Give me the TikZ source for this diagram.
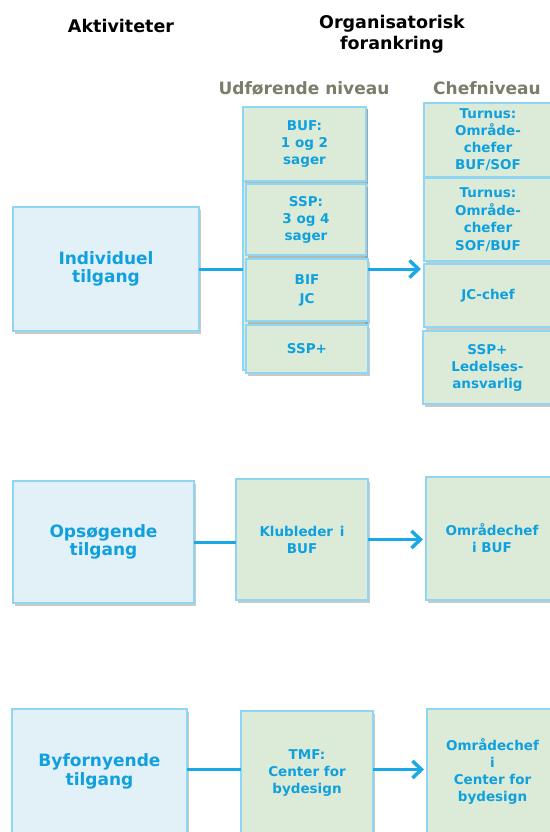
\documentclass[tikz,border=0pt]{standalone}
\usepackage{fontspec}
\setmainfont{DejaVu Sans}
\usetikzlibrary{arrows.meta,shadows}
\definecolor{txtblue}{RGB}{16,160,222}
\definecolor{bordblue}{RGB}{143,214,245}
\definecolor{fillblue}{RGB}{226,240,247}
\definecolor{fillgreen}{RGB}{220,235,216}
\definecolor{headgray}{RGB}{124,124,106}
\definecolor{linkblue}{RGB}{26,168,230}
\begin{document}
\begin{tikzpicture}[x=1pt,y=-1pt,
 box/.style={draw=bordblue, line width=1.2pt, inner sep=0pt, outer sep=0pt, align=center, text=txtblue,
   font=\bfseries\fontsize{13.5}{17}\selectfont,
   drop shadow={shadow xshift=2pt,shadow yshift=-2.5pt,opacity=0.3,fill=black!70}},
 actbox/.style={box, fill=fillblue, font=\bfseries\fontsize{17}{18.5}\selectfont},
 orgbox/.style={box, fill=fillgreen},
 title/.style={font=\bfseries\fontsize{17.5}{21}\selectfont, align=center, inner sep=0pt},
 level/.style={font=\bfseries\fontsize{17}{20}\selectfont, text=headgray, inner sep=0pt},
 link/.style={draw=linkblue, line width=3pt},
 flow/.style={link, -{Straight Barb[length=9pt,width=17pt,line width=3.5pt]}}]
\useasboundingbox (0,0) rectangle (549,832);
% headings
\node[title] (akt) at (121,26) {Aktiviteter};
\node[title] (org) at (392,34) {Organisatorisk\\forankring};
\node[level] (udf) at (304,88) {Udførende niveau};
\node[level] (chef) at (487,88) {Chefniveau};
% activities
\node[actbox, minimum width=186pt, minimum height=124pt] (ind) at (106,269) {Individuel\\tilgang};
\node[actbox, minimum width=181pt, minimum height=122pt] (ops) at (103.5,542) {Opsøgende\\tilgang};
\node[actbox, minimum width=175pt, minimum height=125pt] (byf) at (99.5,771.5) {Byfornyende\\tilgang};
% executing level, row 1
\node[orgbox, minimum width=123pt, minimum height=263pt] (col) at (304.5,238.5) {};
\node[orgbox, minimum width=123pt, minimum height=74pt] (buf) at (304.5,144) {BUF:\\1 og 2\\sager};
\node[orgbox, minimum width=120pt, minimum height=71pt] (ssp) at (306,219.5) {SSP:\\3 og 4\\sager};
\node[orgbox, minimum width=122pt, minimum height=62pt] (bif) at (307,290) {BIF\\[2pt]JC};
\node[orgbox, minimum width=122pt, minimum height=48pt] (sspp) at (307,349) {SSP+};
% chief level, row 1
\node[orgbox, minimum width=128pt, minimum height=74pt] (t1) at (488,140) {Turnus:\\Område-\\chefer\\BUF/SOF};
\node[orgbox, minimum width=128pt, minimum height=83pt] (t2) at (488,219.5) {Turnus:\\[1pt]Område-\\chefer\\[1pt]SOF/BUF};
\node[orgbox, minimum width=128pt, minimum height=63pt] (jcc) at (488,295.5) {JC-chef};
\node[orgbox, minimum width=129pt, minimum height=73pt] (led) at (487.5,367.5) {SSP+\\Ledelses-\\ansvarlig};
% row 2
\node[orgbox, minimum width=132pt, minimum height=121pt] (klub) at (302,539.5) {Klubleder\enspace i\\BUF};
\node[orgbox, minimum width=132pt, minimum height=123pt] (omr) at (492,538.5) {Områdechef\\i BUF};
% row 3
\node[orgbox, minimum width=132pt, minimum height=125pt] (tmf) at (307,773.5) {TMF:\\Center for\\bydesign};
\node[orgbox, minimum width=131pt, minimum height=125pt] (omr2) at (492.5,771.5) {Områdechef\\i\\Center for\\bydesign};
% connectors
\draw[link] (ind.east) -- (ind.east -| col.west);
\draw[flow] (bif.east |- ind.east) -- ([xshift=-3pt]ind.east -| t2.west);
\draw[link] (ops.east) -- (ops.east -| klub.west);
\draw[flow] (klub.east) -- ([xshift=-3pt]klub.east -| omr.west);
\draw[link] ([yshift=2pt]byf.east) -- ([yshift=2pt]byf.east -| tmf.west);
\draw[flow] ([yshift=2pt]tmf.east |- byf.east) -- ([xshift=-3pt,yshift=2pt]byf.east -| omr2.west);
\end{tikzpicture}
\end{document}
